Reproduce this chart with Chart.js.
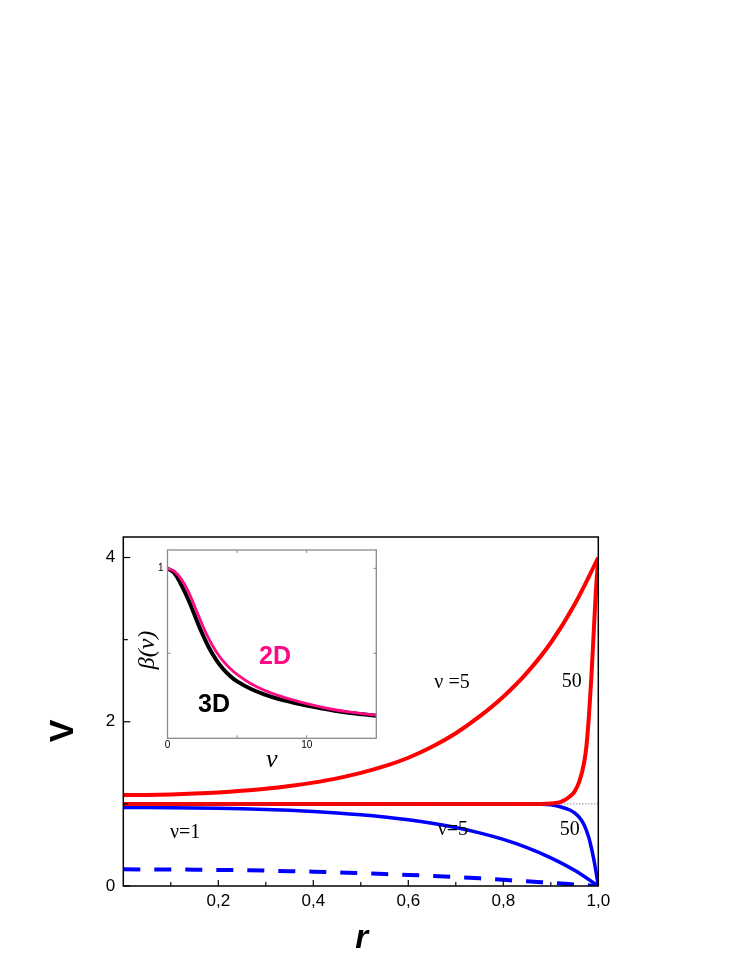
<!DOCTYPE html>
<html><head><meta charset="utf-8">
<script src="https://cdn.jsdelivr.net/npm/chart.js@4.4.0/dist/chart.umd.min.js"></script>
<style>
html,body{margin:0;padding:0;background:#fff;}
#wrap{position:relative;width:747px;height:967px;background:#fff;}
#main{position:absolute;left:0;top:0;width:747px;height:967px;}
#inset{position:absolute;left:100px;top:530px;width:300px;height:250px;}
</style></head><body>
<div id="wrap"><canvas id="main" width="747" height="967"></canvas><canvas id="inset" width="300" height="250"></canvas></div>
<script>
// ---- main plot data (r, V) ----
const rGrid = [0, 0.05, 0.1, 0.15, 0.2, 0.25, 0.3, 0.35, 0.4, 0.45, 0.5, 0.55, 0.6, 0.65, 0.7, 0.75, 0.8, 0.85, 0.9, 0.95, 1.0];
const vRed5 = [1.107, 1.109, 1.115, 1.125, 1.139, 1.159, 1.184, 1.217, 1.259, 1.311, 1.377, 1.459, 1.562, 1.695, 1.860, 2.065, 2.305, 2.598, 2.962, 3.428, 4.0];
const vBlue5 = [0.957, 0.956, 0.954, 0.951, 0.946, 0.940, 0.932, 0.921, 0.907, 0.890, 0.868, 0.840, 0.806, 0.764, 0.712, 0.647, 0.567, 0.467, 0.343, 0.191, 0.0];
const vBlue1 = [0.203, 0.202, 0.201, 0.199, 0.196, 0.192, 0.187, 0.181, 0.174, 0.165, 0.156, 0.146, 0.135, 0.123, 0.109, 0.093, 0.075, 0.057, 0.038, 0.019, 0.0];
const rRed50 = [0, 0.2, 0.4, 0.6, 0.8, 0.88, 0.9, 0.92, 0.94, 0.95, 0.96, 0.97, 0.975, 0.98, 0.985, 0.99, 0.995, 1.0];
const vRed50 = [1, 1, 1, 1, 1, 1.0, 1.005, 1.02, 1.09, 1.15, 1.27, 1.5, 1.7, 2.05, 2.5, 3.05, 3.6, 4.0];
const rBlue50 = [0, 0.2, 0.4, 0.6, 0.8, 0.88, 0.9, 0.92, 0.94, 0.95, 0.96, 0.97, 0.98, 0.985, 0.99, 0.995, 1.0];
const vBlue50 = [0.998, 0.998, 0.998, 0.998, 0.998, 0.996, 0.99, 0.965, 0.925, 0.89, 0.835, 0.745, 0.59, 0.475, 0.34, 0.18, 0.0];
const rRef = [0, 1];
const vRef = [1, 1];
const xTickValues = [0.2, 0.4, 0.6, 0.8, 1.0];
const xTickLabels = ['0,2', '0,4', '0,6', '0,8', '1,0'];
const xMinorValues = [0.1, 0.3, 0.5, 0.7, 0.9];
const yTickValues = [0, 2, 4];
const yTickLabels = ['0', '2', '4'];
const yMinorValues = [1, 3];

// ---- inset data (nu, beta) ----
const nuGrid = [0, 0.5, 1, 1.5, 2, 2.5, 3, 3.5, 4, 4.5, 5, 6, 7, 8, 9, 10, 11, 12, 13, 14, 15];
const beta3D = [1.0, 0.972, 0.901, 0.815, 0.714, 0.615, 0.530, 0.462, 0.408, 0.367, 0.335, 0.290, 0.257, 0.231, 0.211, 0.193, 0.177, 0.162, 0.150, 0.141, 0.133];
const beta2D = [1.0, 0.982, 0.935, 0.863, 0.767, 0.668, 0.580, 0.509, 0.454, 0.411, 0.376, 0.321, 0.281, 0.251, 0.226, 0.204, 0.185, 0.168, 0.155, 0.145, 0.137];
const insetXTickValues = [0, 10];
const insetXTickLabels = ['0', '10'];
const insetYTickValues = [1];
const insetYTickLabels = ['1'];

const pts = (xs, ys) => xs.map((x, i) => ({x: x, y: ys[i]}));
const SANS = "'Liberation Sans', Arial, sans-serif";
const SERIF = "'Liberation Serif', 'Times New Roman', serif";

const mainNotes = [
  {t: 'ν =5', x: 0.692, y: 2.41},
  {t: '50', x: 0.944, y: 2.42},
  {t: 'ν=1', x: 0.13, y: 0.584},
  {t: 'ν=5', x: 0.694, y: 0.62},
  {t: '50', x: 0.94, y: 0.62}
];

const mainDecor = {
  id: 'mainDecor',
  afterDatasetsDraw(chart) {
    const ctx = chart.ctx, a = chart.chartArea, xs = chart.scales.x, ys = chart.scales.y;
    ctx.save();
    ctx.strokeStyle = '#000';
    ctx.lineWidth = 1.2;
    const seg = (x1, y1, x2, y2) => { ctx.beginPath(); ctx.moveTo(x1, y1); ctx.lineTo(x2, y2); ctx.stroke(); };
    xTickValues.forEach(v => { const p = xs.getPixelForValue(v); seg(p, a.bottom, p, a.bottom - 6); });
    xMinorValues.forEach(v => { const p = xs.getPixelForValue(v); seg(p, a.bottom, p, a.bottom - 4); });
    yTickValues.forEach(v => { const p = ys.getPixelForValue(v); seg(a.left, p, a.left + 7, p); });
    yMinorValues.forEach(v => { const p = ys.getPixelForValue(v); seg(a.left, p, a.left + 4.5, p); });
    ctx.lineWidth = 1.5;
    ctx.strokeRect(a.left, a.top, a.right - a.left, a.bottom - a.top);
    ctx.fillStyle = '#000';
    ctx.font = '20px ' + SERIF;
    ctx.textAlign = 'center';
    ctx.textBaseline = 'alphabetic';
    mainNotes.forEach(n => ctx.fillText(n.t, xs.getPixelForValue(n.x), ys.getPixelForValue(n.y)));
    ctx.font = 'bold italic 33px ' + SANS;
    ctx.fillText('r', (a.left + a.right) / 2 + 0.9, 948);
    ctx.translate(72.7, 731);
    ctx.rotate(-Math.PI / 2);
    ctx.font = 'bold 34px ' + SANS;
    ctx.fillText('V', 0, 0);
    ctx.restore();
  }
};

const mainChart = new Chart(document.getElementById('main'), {
  type: 'line',
  data: {
    datasets: [
      {data: pts(rRef, vRef), borderColor: '#555', borderWidth: 1, borderDash: [1, 2], pointRadius: 0, fill: false},
      {data: pts(rRed50, vRed50), borderColor: '#ff0000', borderWidth: 4, pointRadius: 0, cubicInterpolationMode: 'monotone', fill: false},
      {data: pts(rGrid, vRed5), borderColor: '#ff0000', borderWidth: 4, pointRadius: 0, cubicInterpolationMode: 'monotone', fill: false},
      {data: pts(rGrid, vBlue5), borderColor: '#0000ff', borderWidth: 3.5, pointRadius: 0, cubicInterpolationMode: 'monotone', fill: false},
      {data: pts(rGrid, vBlue1), borderColor: '#0000ff', borderWidth: 4, borderDash: [17, 14], pointRadius: 0, cubicInterpolationMode: 'monotone', fill: false},
      {data: pts(rBlue50, vBlue50), borderColor: '#0000ff', borderWidth: 3.5, pointRadius: 0, cubicInterpolationMode: 'monotone', fill: false}
    ]
  },
  options: {
    responsive: false, devicePixelRatio: 1, animation: false, events: [],
    layout: {padding: {left: 0, top: 537, right: 148.7, bottom: 0}},
    plugins: {legend: {display: false}, tooltip: {enabled: false}},
    scales: {
      x: {
        type: 'linear', min: 0, max: 1,
        grid: {display: false, drawTicks: false}, border: {display: false},
        afterBuildTicks: s => { s.ticks = xTickValues.map(v => ({value: v})); },
        afterFit: s => { s.height = 81; },
        ticks: {
          color: '#000', padding: 5, maxRotation: 0, autoSkip: false,
          font: {family: SANS, size: 17},
          callback: v => { const i = xTickValues.findIndex(t => Math.abs(t - v) < 1e-6); return i >= 0 ? xTickLabels[i] : ''; }
        }
      },
      y: {
        type: 'linear', min: 0, max: 4.25,
        grid: {display: false, drawTicks: false}, border: {display: false},
        afterBuildTicks: s => { s.ticks = yTickValues.map(v => ({value: v})); },
        afterFit: s => { s.width = 123.3; },
        ticks: {
          color: '#000', padding: 8, autoSkip: false,
          font: {family: SANS, size: 17},
          callback: v => { const i = yTickValues.findIndex(t => Math.abs(t - v) < 1e-6); return i >= 0 ? yTickLabels[i] : ''; }
        }
      }
    }
  },
  plugins: [mainDecor]
});

const insetNotes = [
  {t: '2D', x: 7.72, y: 0.437, c: '#ff0a85'},
  {t: '3D', x: 3.34, y: 0.156, c: '#000000'}
];

const insetDecor = {
  id: 'insetDecor',
  beforeDatasetsDraw(chart) {
    const ctx = chart.ctx, a = chart.chartArea;
    ctx.save();
    ctx.fillStyle = '#fff';
    ctx.fillRect(a.left, a.top, a.right - a.left, a.bottom - a.top);
    ctx.restore();
  },
  afterDatasetsDraw(chart) {
    const ctx = chart.ctx, a = chart.chartArea, xs = chart.scales.x, ys = chart.scales.y;
    ctx.save();
    ctx.strokeStyle = '#8a8a8a';
    ctx.lineWidth = 1;
    const seg = (x1, y1, x2, y2) => { ctx.beginPath(); ctx.moveTo(x1, y1); ctx.lineTo(x2, y2); ctx.stroke(); };
    [5, 10].forEach(v => { const p = xs.getPixelForValue(v); seg(p, a.bottom, p, a.bottom - 3); seg(p, a.top, p, a.top + 3); });
    [0.5, 1].forEach(v => { const p = ys.getPixelForValue(v); seg(a.left, p, a.left + 3, p); seg(a.right, p, a.right - 3, p); });
    ctx.lineWidth = 1.3;
    ctx.strokeRect(a.left, a.top, a.right - a.left, a.bottom - a.top);
    ctx.textAlign = 'center';
    ctx.textBaseline = 'alphabetic';
    ctx.font = 'bold 25px ' + SANS;
    insetNotes.forEach(n => { ctx.fillStyle = n.c; ctx.fillText(n.t, xs.getPixelForValue(n.x), ys.getPixelForValue(n.y)); });
    ctx.fillStyle = '#000';
    ctx.font = 'italic 26px ' + SERIF;
    ctx.fillText('ν', 171.7, 236.7);
    ctx.translate(54, 120);
    ctx.rotate(-Math.PI / 2);
    ctx.font = 'italic 24px ' + SERIF;
    ctx.fillText('β(ν)', 0, 0);
    ctx.restore();
  }
};

const insetChart = new Chart(document.getElementById('inset'), {
  type: 'line',
  data: {
    datasets: [
      {data: pts(nuGrid, beta2D), borderColor: '#ff0a85', borderWidth: 2.8, pointRadius: 0, tension: 0.4, fill: false},
      {data: pts(nuGrid, beta3D), borderColor: '#000000', borderWidth: 4, pointRadius: 0, tension: 0.4, fill: false}
    ]
  },
  options: {
    responsive: false, devicePixelRatio: 1, animation: false, events: [],
    layout: {padding: {left: 0, top: 20, right: 23.7, bottom: 0}},
    plugins: {legend: {display: false}, tooltip: {enabled: false}},
    scales: {
      x: {
        type: 'linear', min: 0, max: 15,
        grid: {display: false, drawTicks: false}, border: {display: false},
        afterBuildTicks: s => { s.ticks = insetXTickValues.map(v => ({value: v})); },
        afterFit: s => { s.height = 41.7; },
        ticks: {
          color: '#000', padding: 1, maxRotation: 0, autoSkip: false,
          font: {family: SANS, size: 10},
          callback: v => { const i = insetXTickValues.findIndex(t => Math.abs(t - v) < 1e-6); return i >= 0 ? insetXTickLabels[i] : ''; }
        }
      },
      y: {
        type: 'linear', min: 0, max: 1.108,
        grid: {display: false, drawTicks: false}, border: {display: false},
        afterBuildTicks: s => { s.ticks = insetYTickValues.map(v => ({value: v})); },
        afterFit: s => { s.width = 67.5; },
        ticks: {
          color: '#000', padding: 4, autoSkip: false,
          font: {family: SANS, size: 10},
          callback: v => { const i = insetYTickValues.findIndex(t => Math.abs(t - v) < 1e-6); return i >= 0 ? insetYTickLabels[i] : ''; }
        }
      }
    }
  },
  plugins: [insetDecor]
});
</script>
</body></html>
